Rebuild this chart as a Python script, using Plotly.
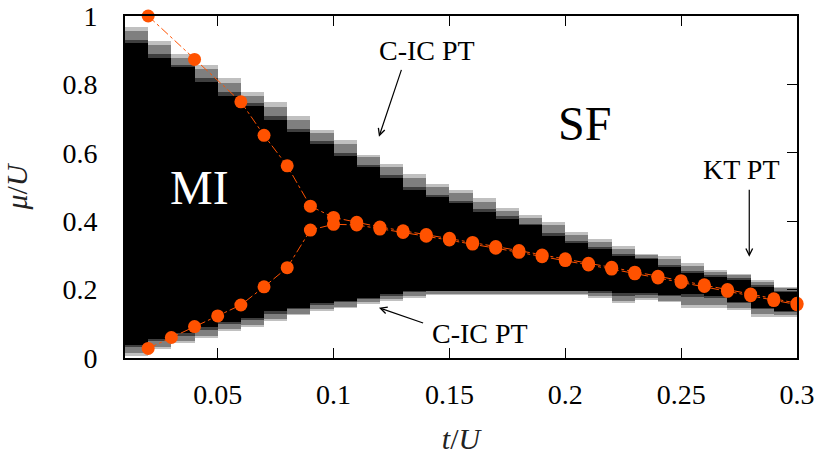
import numpy as np
import plotly.graph_objects as go

# ---- data ----
# heat-map columns (t/U cell edges) and per-column boundaries of the MI lobe
col_edges = [0.01, 0.02, 0.03, 0.04, 0.05, 0.06, 0.07, 0.08, 0.09, 0.10,
             0.11, 0.12, 0.13, 0.14, 0.15, 0.16, 0.17, 0.18, 0.19, 0.20,
             0.21, 0.22, 0.23, 0.24, 0.25, 0.26, 0.27, 0.28, 0.29, 0.30]
upper_outer = [0.968, 0.927, 0.888, 0.857, 0.818, 0.777, 0.748, 0.708, 0.667, 0.637,
               0.596, 0.567, 0.538, 0.510, 0.492, 0.468, 0.439, 0.418, 0.398, 0.368,
               0.348, 0.327, 0.306, 0.298, 0.277, 0.257, 0.246, 0.228, 0.208]
upper_inner = [0.920, 0.878, 0.849, 0.808, 0.766, 0.738, 0.696, 0.659, 0.626, 0.591,
               0.558, 0.528, 0.491, 0.470, 0.452, 0.428, 0.408, 0.387, 0.357, 0.337,
               0.318, 0.298, 0.289, 0.267, 0.248, 0.238, 0.228, 0.208, 0.192]
lower_inner = [0.038, 0.056, 0.072, 0.089, 0.106, 0.118, 0.137, 0.147, 0.160, 0.167,
               0.175, 0.187, 0.196, 0.196, 0.196, 0.196, 0.196, 0.196, 0.196, 0.196,
               0.194, 0.189, 0.189, 0.184, 0.187, 0.181, 0.165, 0.148, 0.138]
lower_outer = [0.006, 0.026, 0.043, 0.058, 0.077, 0.090, 0.108, 0.126, 0.138, 0.145,
               0.158, 0.168, 0.176, 0.186, 0.186, 0.186, 0.186, 0.186, 0.186, 0.186,
               0.176, 0.161, 0.170, 0.162, 0.145, 0.148, 0.140, 0.121, 0.120]

# orange transition points
upper_t = [0.02, 0.04, 0.06, 0.07, 0.08, 0.09, 0.10, 0.11, 0.12, 0.13, 0.14, 0.15,
           0.16, 0.17, 0.18, 0.19, 0.20, 0.21, 0.22, 0.23, 0.24, 0.25, 0.26, 0.27,
           0.28, 0.29, 0.30]
upper_mu = [1.000, 0.873, 0.749, 0.651, 0.562, 0.444, 0.411, 0.397, 0.383, 0.372,
            0.361, 0.350, 0.338, 0.326, 0.314, 0.301, 0.290, 0.277, 0.265, 0.251,
            0.239, 0.226, 0.214, 0.200, 0.187, 0.173, 0.160]
lower_t = [0.02, 0.03, 0.04, 0.05, 0.06, 0.07, 0.08, 0.09, 0.10, 0.11, 0.12, 0.13,
           0.14, 0.15, 0.16, 0.17, 0.18, 0.19, 0.20, 0.21, 0.22, 0.23, 0.24, 0.25,
           0.26, 0.27, 0.28, 0.29, 0.30]
lower_mu = [0.028, 0.060, 0.092, 0.123, 0.155, 0.208, 0.264, 0.374, 0.391, 0.389,
            0.377, 0.367, 0.356, 0.345, 0.333, 0.321, 0.309, 0.296, 0.285, 0.272,
            0.260, 0.246, 0.234, 0.221, 0.209, 0.195, 0.182, 0.168, 0.156]

x_ticks = [0.05, 0.1, 0.15, 0.2, 0.25, 0.3]
y_ticks = [0, 0.2, 0.4, 0.6, 0.8, 1]

# ---- build the grey-level grid from the boundaries ----
dy = 0.0025
y_edges = np.arange(0, 1 + dy / 2, dy)
y_cent = (y_edges[:-1] + y_edges[1:]) / 2


def level(f):
    if f < 0.25:
        return 1
    if f < 0.8:
        return 2
    return 3


z = np.zeros((len(y_cent), len(upper_inner)))
for j in range(len(upper_inner)):
    for i, yc in enumerate(y_cent):
        if lower_inner[j] <= yc <= upper_inner[j]:
            z[i, j] = 4
        elif upper_inner[j] < yc <= upper_outer[j]:
            z[i, j] = level((upper_outer[j] - yc) / (upper_outer[j] - upper_inner[j]))
        elif lower_outer[j] <= yc < lower_inner[j]:
            z[i, j] = level((yc - lower_outer[j]) / (lower_inner[j] - lower_outer[j]))

cs = [[0, "white"], [0.125, "white"], [0.125, "#c0c0c0"], [0.375, "#c0c0c0"],
      [0.375, "#7f7f7f"], [0.625, "#7f7f7f"], [0.625, "#3f3f3f"], [0.875, "#3f3f3f"],
      [0.875, "black"], [1, "black"]]

ORANGE = "#ff5200"
FONT = "Liberation Serif"

fig = go.Figure()
fig.add_trace(go.Heatmap(x=col_edges, y=y_edges, z=z, zmin=0, zmax=4,
                         colorscale=cs, showscale=False, hoverinfo="skip"))
for tt, mm in [(upper_t, upper_mu), (lower_t, lower_mu)]:
    fig.add_trace(go.Scatter(x=tt, y=mm, mode="lines+markers", cliponaxis=False,
                             line=dict(color=ORANGE, width=1, dash="dashdot"),
                             marker=dict(color=ORANGE, size=13), showlegend=False))

axis_common = dict(showline=True, linewidth=2, linecolor="black", mirror="ticks",
                   ticks="inside", ticklen=10, tickwidth=1, tickcolor="black",
                   showgrid=False, zeroline=False, automargin=False,
                   ticklabeloverflow="allow",
                   tickfont=dict(family=FONT, size=28, color="black"))
fig.update_xaxes(range=[0.01, 0.3], tickvals=x_ticks,
                 ticktext=["0.05", "0.1", "0.15", "0.2", "0.25", "0.3"],
                 ticklabelstandoff=10,
                 title=dict(text="<i>t</i>/<i>U</i>", font=dict(family=FONT, size=30, color="#222"),
                            standoff=23),
                 **axis_common)
fig.update_yaxes(range=[0, 1], tickvals=y_ticks,
                 ticktext=["0", "0.2", "0.4", "0.6", "0.8", "1"],
                 ticklabelstandoff=20,
                 title=dict(text="<i>μ</i>/<i>U</i>", font=dict(family=FONT, size=30, color="#222"),
                            standoff=34),
                 **axis_common)

ann_font = dict(family=FONT, size=28, color="black")
arrow = dict(showarrow=True, arrowhead=5, arrowsize=1.1, arrowwidth=1.2,
             arrowcolor="black", axref="x", ayref="y", text="")
annotations = [
    dict(x=0.0423, y=0.50, text="MI", showarrow=False,
         font=dict(family=FONT, size=48, color="white")),
    dict(x=0.2083, y=0.687, text="SF", showarrow=False,
         font=dict(family=FONT, size=48, color="black")),
    dict(x=0.1403, y=0.9, text="C-IC PT", showarrow=False, font=ann_font),
    dict(x=0.163, y=0.072, text="C-IC PT", showarrow=False, font=ann_font),
    dict(x=0.2762, y=0.552, text="KT PT", showarrow=False, font=ann_font),
    dict(x=0.1196, y=0.647, ax=0.1295, ay=0.847, **arrow),
    dict(x=0.1196, y=0.147, ax=0.1393, ay=0.101, **arrow),
    dict(x=0.2794, y=0.296, ax=0.2794, ay=0.496, **arrow),
]
fig.update_layout(width=818, height=455, margin=dict(l=125, r=21, t=16, b=97),
                  paper_bgcolor="white", plot_bgcolor="white",
                  font=dict(family=FONT, color="black"),
                  annotations=annotations, showlegend=False)

# remove the default 8 px page margin so the figure fills the window exactly
fig.write_html("out.html", config={"displayModeBar": False},
               post_script="document.body.style.margin='0px';"
                           "document.body.style.overflow='hidden';")
